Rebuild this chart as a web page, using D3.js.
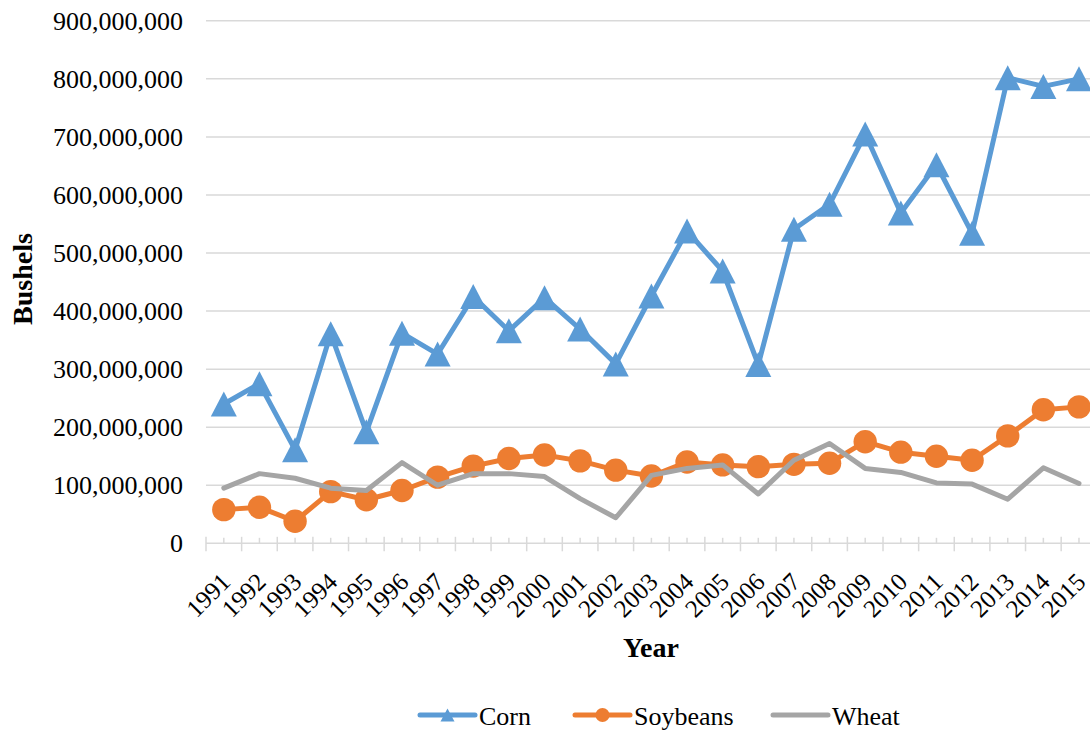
<!DOCTYPE html>
<html>
<head>
<meta charset="utf-8">
<script src="https://cdn.jsdelivr.net/npm/d3@7"></script>
<style>
  html, body { margin: 0; padding: 0; background: #fff; }
  svg { display: block; font-family: "Liberation Serif", "Times New Roman", serif; }
</style>
</head>
<body>
<svg id="chart" width="1090" height="731"></svg>
<script>
// Annual bushels by crop, 1991–2015
const years = ["1991","1992","1993","1994","1995","1996","1997","1998","1999","2000",
               "2001","2002","2003","2004","2005","2006","2007","2008","2009","2010",
               "2011","2012","2013","2014","2015"];

const corn = [240e6, 275e6, 161e6, 361e6, 192e6, 362e6, 326e6, 425e6, 366e6, 423e6,
              369e6, 309e6, 426e6, 538e6, 469e6, 308e6, 541e6, 584e6, 705e6, 569e6,
              652e6, 534e6, 802e6, 787e6, 800e6];

const soybeans = [58e6, 62e6, 38e6, 89e6, 75e6, 91e6, 114e6, 133e6, 146e6, 152e6,
                  142e6, 126e6, 116e6, 140e6, 135e6, 132e6, 136e6, 138e6, 175e6, 157e6,
                  150e6, 143e6, 185e6, 230e6, 235e6];

const wheat = [95e6, 120e6, 112e6, 95e6, 91e6, 139e6, 100e6, 120e6, 120e6, 115e6,
               77e6, 44e6, 117e6, 129e6, 135e6, 85e6, 143e6, 172e6, 129e6, 122e6,
               104e6, 102e6, 76e6, 130e6, 103e6];

const yTicks = [0, 100e6, 200e6, 300e6, 400e6, 500e6, 600e6, 700e6, 800e6, 900e6];

const seriesNames = ["Corn", "Soybeans", "Wheat"];
const seriesColors = ["#5B9BD5", "#ED7D31", "#A5A5A5"];

const svg = d3.select("#chart");
const fontFamily = '"Liberation Serif", "Times New Roman", serif';

const x = d3.scaleBand().domain(years).range([206, 1096.8]).padding(0);
const cx = d => x(d) + x.bandwidth() / 2;
const y = d3.scaleLinear().domain([0, 900e6]).range([543.3, 20.8]);

// horizontal gridlines
svg.append("g").selectAll("line")
  .data(yTicks.filter(d => d > 0))
  .join("line")
  .attr("x1", 206).attr("x2", 1090)
  .attr("y1", d => y(d)).attr("y2", d => y(d))
  .attr("stroke", "#D9D9D9").attr("stroke-width", 1.5);

// y axis labels
const yAxis = svg.append("g")
  .attr("transform", "translate(183,0)")
  .call(d3.axisLeft(y).tickValues(yTicks).tickFormat(d3.format(",")).tickSize(0).tickPadding(0));
yAxis.select(".domain").remove();
yAxis.selectAll("text")
  .attr("font-family", fontFamily).attr("font-size", 26).attr("fill", "#000");

// x axis baseline and ticks
const xg = svg.append("g");
xg.append("line")
  .attr("x1", 206).attr("x2", 1096.8)
  .attr("y1", y(0)).attr("y2", y(0))
  .attr("stroke", "#D9D9D9").attr("stroke-width", 1.5);
const bounds = years.map(d => x(d)).concat([x(years[years.length - 1]) + x.bandwidth()]);
xg.selectAll("line.major")
  .data(bounds).join("line").attr("class", "major")
  .attr("x1", d => d).attr("x2", d => d)
  .attr("y1", y(0) - 6.5).attr("y2", y(0) + 8)
  .attr("stroke", "#D9D9D9").attr("stroke-width", 1.5);
xg.selectAll("line.minor")
  .data(years).join("line").attr("class", "minor")
  .attr("x1", d => cx(d)).attr("x2", d => cx(d))
  .attr("y1", y(0) - 5.5).attr("y2", y(0))
  .attr("stroke", "#D9D9D9").attr("stroke-width", 1.5);

// rotated year labels
xg.selectAll("text.year")
  .data(years).join("text").attr("class", "year")
  .attr("transform", d => `translate(${cx(d) + 2},${y(0) + 34}) rotate(-45)`)
  .attr("text-anchor", "end")
  .attr("dominant-baseline", "central")
  .attr("font-family", fontFamily).attr("font-size", 25).attr("fill", "#000")
  .text(d => d);

// axis titles
svg.append("text")
  .attr("x", 651).attr("y", 657)
  .attr("text-anchor", "middle")
  .attr("font-family", fontFamily).attr("font-size", 28).attr("font-weight", "bold")
  .text("Year");
svg.append("text")
  .attr("transform", "translate(32,279) rotate(-90)")
  .attr("text-anchor", "middle")
  .attr("font-family", fontFamily).attr("font-size", 28).attr("font-weight", "bold")
  .text("Bushels");

// series
const allSeries = [corn, soybeans, wheat];
const line = d3.line().x((d, i) => cx(years[i])).y(d => y(d));

const triangle = (w, h) => `M0,${-h / 2}L${w / 2},${h / 2}L${-w / 2},${h / 2}Z`;

allSeries.forEach((vals, si) => {
  const g = svg.append("g");
  g.append("path")
    .datum(vals)
    .attr("d", line)
    .attr("fill", "none")
    .attr("stroke", seriesColors[si])
    .attr("stroke-width", 5)
    .attr("stroke-linejoin", "round")
    .attr("stroke-linecap", "round");
  if (si === 0) {
    g.selectAll("path.m").data(vals).join("path").attr("class", "m")
      .attr("transform", (d, i) => `translate(${cx(years[i])},${y(d)})`)
      .attr("d", triangle(26, 25))
      .attr("fill", seriesColors[si]);
  } else if (si === 1) {
    g.selectAll("circle").data(vals).join("circle")
      .attr("cx", (d, i) => cx(years[i])).attr("cy", d => y(d))
      .attr("r", 11.7)
      .attr("fill", seriesColors[si]);
  }
});

// legend
const legendX = [420, 575, 773];
const legendY = 715;
const lg = svg.append("g");
seriesNames.forEach((name, i) => {
  const g = lg.append("g").attr("transform", `translate(${legendX[i]},${legendY})`);
  g.append("line")
    .attr("x1", 0).attr("x2", 55).attr("y1", 0).attr("y2", 0)
    .attr("stroke", seriesColors[i]).attr("stroke-width", 5)
    .attr("stroke-linecap", "round");
  if (i === 0) {
    g.append("path").attr("transform", "translate(27.5,0)")
      .attr("d", triangle(14, 13)).attr("fill", seriesColors[i]);
  } else if (i === 1) {
    g.append("circle").attr("cx", 27.5).attr("cy", 0).attr("r", 7).attr("fill", seriesColors[i]);
  }
  g.append("text")
    .attr("x", 59).attr("y", 10)
    .attr("font-family", fontFamily).attr("font-size", 26).attr("fill", "#000")
    .text(name);
});
</script>
</body>
</html>
